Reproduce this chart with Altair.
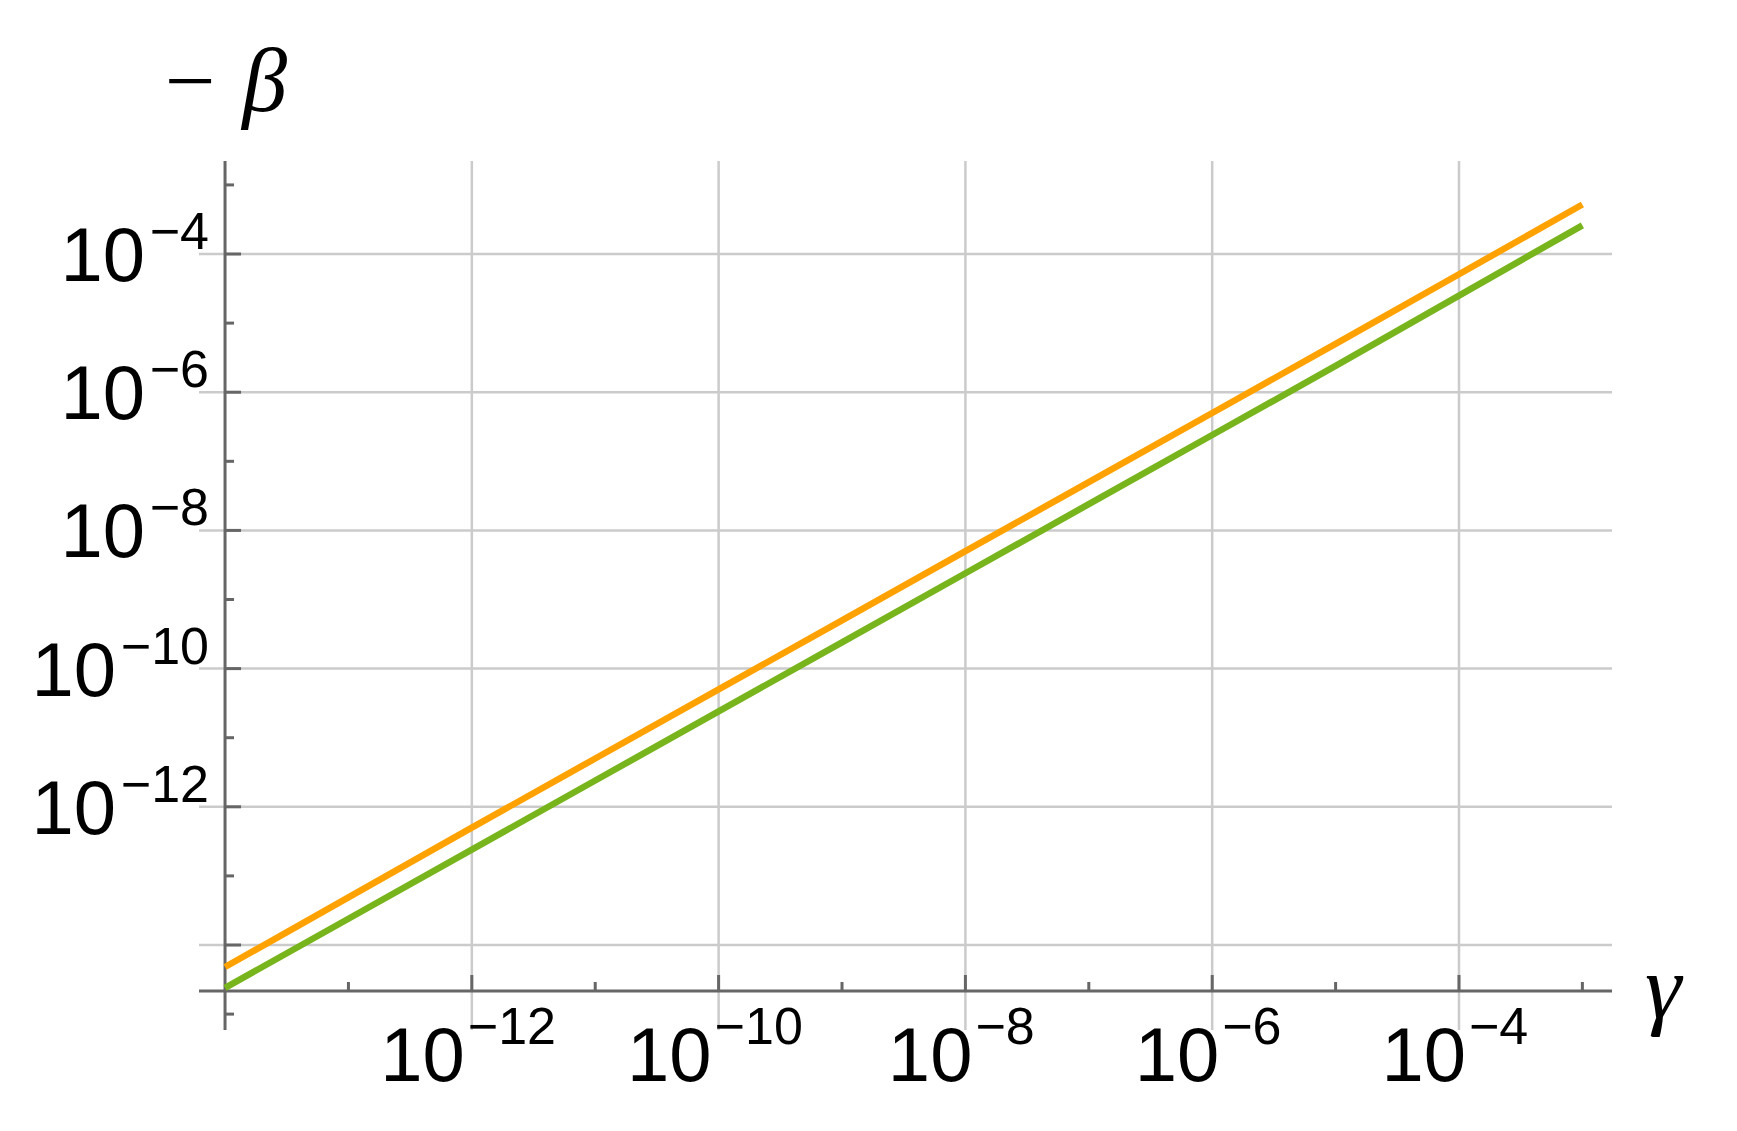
import altair as alt
import pandas as pd

# ---------------- data ----------------
GAMMA = [1e-14, 1e-13, 1e-12, 1e-11, 1e-10, 1e-9, 1e-8, 1e-7, 1e-6, 1e-5, 1e-4, 1e-3]
ORANGE = [4.8e-15, 4.9e-14, 5.0e-13, 5.0e-12, 5.0e-11, 5.0e-10, 5.0e-9, 5.0e-8, 5.0e-7, 5.0e-6, 5.1e-5, 5.2e-4]
GREEN = [2.4e-15, 2.4e-14, 2.4e-13, 2.4e-12, 2.4e-11, 2.4e-10, 2.4e-9, 2.4e-8, 2.4e-7, 2.4e-6, 2.5e-5, 2.6e-4]
SERIES = ["orange", "green"]
COLORS = ["#FFA200", "#78B41C"]

X_MAJOR = [1e-12, 1e-10, 1e-8, 1e-6, 1e-4]
X_MINOR = [1e-13, 1e-11, 1e-9, 1e-7, 1e-5, 1e-3]
X_EXP = ["−12", "−10", "−8", "−6", "−4"]
Y_MAJOR = [1e-4, 1e-6, 1e-8, 1e-10, 1e-12, 1e-14]
Y_MINOR = [1e-3, 1e-5, 1e-7, 1e-9, 1e-11, 1e-13, 1e-15]
Y_LABELED = [1e-4, 1e-6, 1e-8, 1e-10, 1e-12]
Y_EXP = ["−4", "−6", "−8", "−10", "−12"]
BASE_TEXT = "10"
Y_TITLE = "− β"
X_TITLE = "γ"

AXIS_X_AT = 1e-14      # gamma value where the vertical axis sits
AXIS_Y_AT = 2.16e-15   # -beta value where the horizontal axis sits
X_DOMAIN = [10 ** -14.211, 10 ** -2.760]
Y_DOMAIN = [10 ** -15.230, 10 ** -2.654]

W, H = 1413, 869

# ---------------- tables ----------------
lines_df = pd.DataFrame({
    "gamma": GAMMA * 2,
    "value": ORANGE + GREEN,
    "series": [SERIES[0]] * len(GAMMA) + [SERIES[1]] * len(GAMMA),
})
xgrid_df = pd.DataFrame({"v": X_MAJOR})
ygrid_df = pd.DataFrame({"v": Y_MAJOR})
xmaj_df = pd.DataFrame({"v": X_MAJOR})
xmin_df = pd.DataFrame({"v": X_MINOR})
ymaj_df = pd.DataFrame({"v": Y_MAJOR})
ymin_df = pd.DataFrame({"v": Y_MINOR})
xlab_df = pd.DataFrame({"v": X_MAJOR, "exp": X_EXP, "base": [BASE_TEXT] * len(X_MAJOR)})
ylab_df = pd.DataFrame({"v": Y_LABELED, "exp": Y_EXP, "base": [BASE_TEXT] * len(Y_LABELED)})

XS = alt.Scale(type="log", domain=X_DOMAIN, nice=False)
YS = alt.Scale(type="log", domain=Y_DOMAIN, nice=False)

GRID_COLOR = "#cbcbcb"
AXIS_COLOR = "#666666"
MAJ, MIN = 16, 9

def xq(field="v"):
    return alt.X(f"{field}:Q", scale=XS, axis=None)

def yq(field="v"):
    return alt.Y(f"{field}:Q", scale=YS, axis=None)

vgrid = alt.Chart(xgrid_df).mark_rule(color=GRID_COLOR, strokeWidth=2.5).encode(
    x=xq(), y=alt.value(0), y2=alt.value(H))
hgrid = alt.Chart(ygrid_df).mark_rule(color=GRID_COLOR, strokeWidth=2.5).encode(
    y=yq(), x=alt.value(0), x2=alt.value(W))

yaxis_line = alt.Chart(pd.DataFrame({"v": [AXIS_X_AT]})).mark_rule(
    color=AXIS_COLOR, strokeWidth=3).encode(x=xq(), y=alt.value(0), y2=alt.value(H))
xaxis_line = alt.Chart(pd.DataFrame({"v": [AXIS_Y_AT]})).mark_rule(
    color=AXIS_COLOR, strokeWidth=3).encode(y=yq(), x=alt.value(0), x2=alt.value(W))

xticks_maj = alt.Chart(xmaj_df).mark_rule(color=AXIS_COLOR, strokeWidth=3, y2Offset=-MAJ).encode(
    x=xq(), y=alt.Y(datum=AXIS_Y_AT, scale=YS, axis=None), y2=alt.datum(AXIS_Y_AT))
xticks_min = alt.Chart(xmin_df).mark_rule(color=AXIS_COLOR, strokeWidth=3, y2Offset=-MIN).encode(
    x=xq(), y=alt.Y(datum=AXIS_Y_AT, scale=YS, axis=None), y2=alt.datum(AXIS_Y_AT))
yticks_maj = alt.Chart(ymaj_df).mark_rule(color=AXIS_COLOR, strokeWidth=3, x2Offset=MAJ).encode(
    y=yq(), x=alt.X(datum=AXIS_X_AT, scale=XS, axis=None), x2=alt.datum(AXIS_X_AT))
yticks_min = alt.Chart(ymin_df).mark_rule(color=AXIS_COLOR, strokeWidth=3, x2Offset=MIN).encode(
    y=yq(), x=alt.X(datum=AXIS_X_AT, scale=XS, axis=None), x2=alt.datum(AXIS_X_AT))

lines = alt.Chart(lines_df).mark_line(strokeWidth=6.5).encode(
    x=xq("gamma"), y=yq("value"),
    color=alt.Color("series:N", scale=alt.Scale(domain=SERIES, range=COLORS), legend=None),
)

BASE_FONT = dict(font="Liberation Sans", fontSize=76, color="black", baseline="alphabetic")
EXP_FONT = dict(font="Liberation Sans", fontSize=52, color="black", baseline="alphabetic")

def xlabels(ndig, dx):
    src = alt.Chart(xlab_df).transform_filter(f"length(datum.exp) == {ndig + 1}")
    b = src.mark_text(align="right", dx=dx, dy=90, **BASE_FONT).encode(
        x=xq(), y=alt.Y(datum=AXIS_Y_AT, scale=YS, axis=None), text="base:N")
    e = src.mark_text(align="left", dx=dx + 3, dy=53, **EXP_FONT).encode(
        x=xq(), y=alt.Y(datum=AXIS_Y_AT, scale=YS, axis=None), text="exp:N")
    return [b, e]

def ylabels(ndig, dxb):
    src = alt.Chart(ylab_df).transform_filter(f"length(datum.exp) == {ndig + 1}")
    b = src.mark_text(align="right", dx=dxb, dy=27, **BASE_FONT).encode(
        y=yq(), x=alt.X(datum=AXIS_X_AT, scale=XS, axis=None), text="base:N")
    e = src.mark_text(align="right", dx=-16, dy=-5, **EXP_FONT).encode(
        y=yq(), x=alt.X(datum=AXIS_X_AT, scale=XS, axis=None), text="exp:N")
    return [b, e]

ytitle = alt.Chart(pd.DataFrame({"t": [Y_TITLE]})).mark_text(
    align="left", baseline="alphabetic", font="Liberation Serif", fontStyle="italic",
    fontSize=90, color="black").encode(x=alt.value(-40), y=alt.value(-50), text="t:N")
xtitle = alt.Chart(pd.DataFrame({"t": [X_TITLE]})).mark_text(
    align="left", baseline="alphabetic", font="Liberation Serif", fontStyle="italic",
    fontSize=92, color="black").encode(x=alt.value(1446), y=alt.value(857), text="t:N")

layers = [vgrid, hgrid, yaxis_line, xaxis_line, xticks_maj, xticks_min, yticks_maj, yticks_min, lines]
layers += xlabels(1, 7) + xlabels(2, -7) + ylabels(1, -80) + ylabels(2, -109)
layers += [ytitle, xtitle]

chart = alt.layer(*layers).properties(
    width=W, height=H,
    background="white",
    autosize=alt.AutoSizeParams(type="none"),
    padding={"left": 191, "top": 153, "right": 117, "bottom": 93},
).configure_view(strokeWidth=0, stroke="transparent")

chart.save("out.html", embed_options={"renderer": "svg", "actions": False})
